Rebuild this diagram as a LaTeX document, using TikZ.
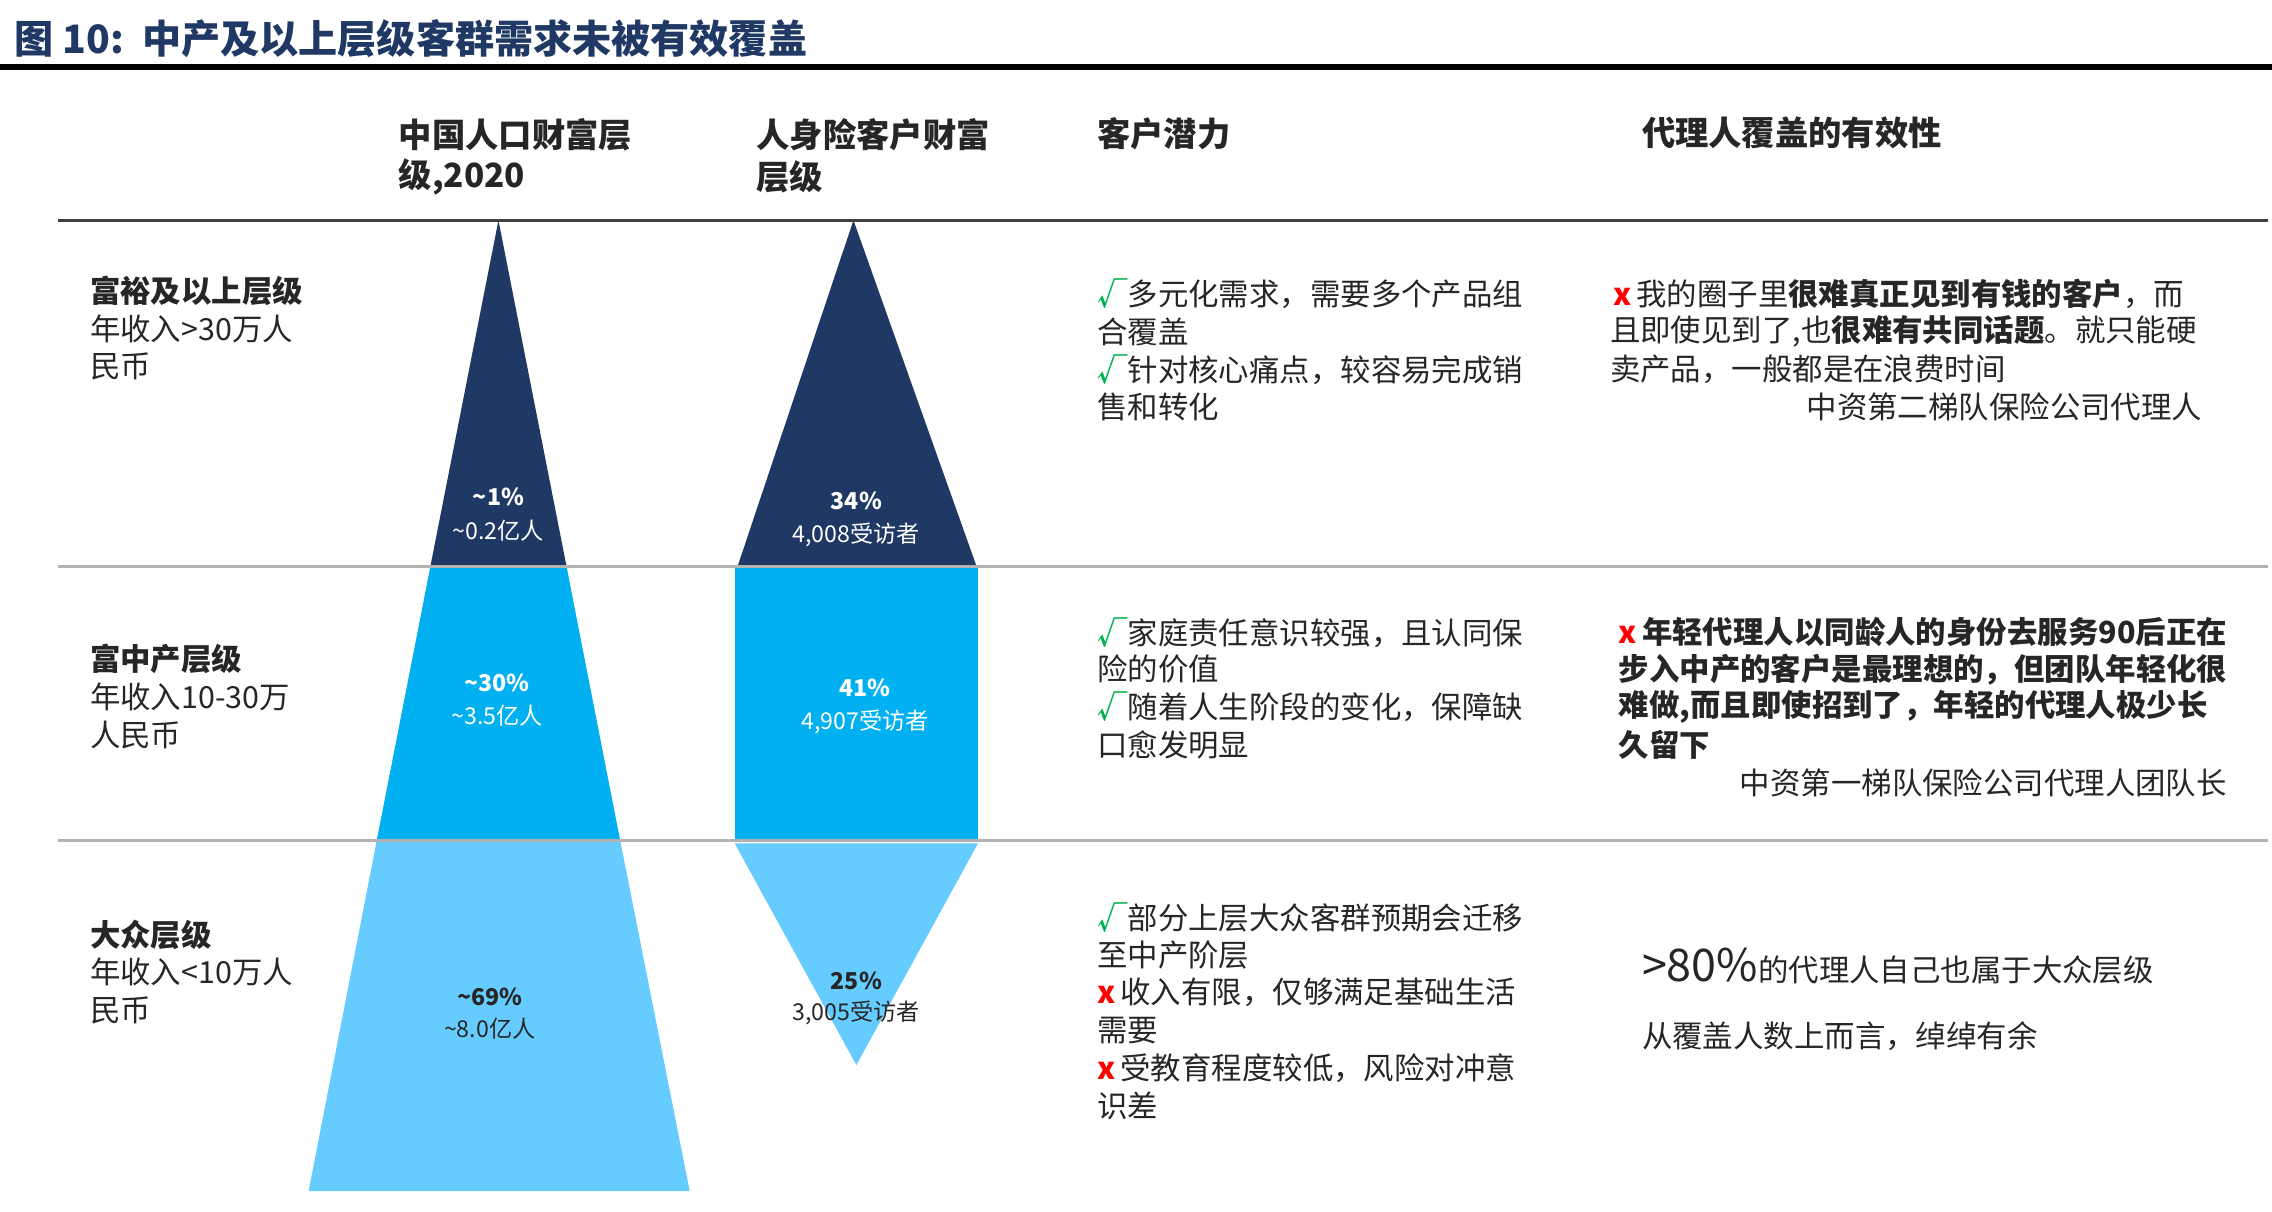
\documentclass[tikz,border=0pt]{standalone}
\usepackage{fontspec}
\setmainfont{Noto Sans CJK SC}
\definecolor{navy}{HTML}{1F3864}
\definecolor{midb}{HTML}{00B0F0}
\definecolor{lightb}{HTML}{66CCFF}
\definecolor{txt}{HTML}{262626}
\definecolor{ck}{HTML}{00B050}
\definecolor{xr}{HTML}{FF0000}
\begin{document}
\begin{tikzpicture}[x=1pt,y=-1pt,
  t/.style={anchor=west,inner sep=0pt,text=txt,font=\fontsize{21}{24}\selectfont},
  hd/.style={anchor=west,inner sep=0pt,text=txt,font=\fontsize{23}{26}\selectfont\bfseries},
  lab/.style={inner sep=0pt,font=\fontsize{16}{18}\selectfont},
  labb/.style={inner sep=0pt,font=\fontsize{16}{18}\selectfont\bfseries},
  rl/.style={draw=gray!60,line width=2pt}]
\useasboundingbox (0,0) rectangle (1568,836);
% title
\node[anchor=west,inner sep=0pt,text=navy,font=\fontsize{27}{30}\selectfont\bfseries] (title) at (10,27) {图 10:\ \ 中产及以上层级客群需求未被有效覆盖};
\coordinate (tl0) at (0,46); \coordinate (tl1) at (1568,46);
\draw[line width=4pt,black] (tl0) -- (tl1);
% headers
\node[hd] (h1a) at (275,93) {中国人口财富层};
\node[hd] (h1b) at (275,122) {级,2020};
\node[hd] (h2a) at (522,93) {人身险客户财富};
\node[hd] (h2b) at (522,122) {层级};
\node[hd] (h3) at (757,92) {客户潜力};
\node[hd] (h4) at (1133,92) {代理人覆盖的有效性};
% shapes
\fill[navy] (344,152) -- (391,391) -- (297,391) -- cycle;
\fill[midb] (297,391) -- (391,391) -- (428,580) -- (260,580) -- cycle;
\fill[lightb] (260,580) -- (428,580) -- (476,822) -- (213,822) -- cycle;
\fill[navy] (589,152) -- (674,391) -- (509,391) -- cycle;
\fill[midb] (507,391) rectangle (675,580);
\fill[lightb] (507,582) -- (675,582) -- (591,735) -- cycle;
% rules
\coordinate (r0a) at (40,152); \coordinate (r0b) at (1565,152);
\coordinate (r1a) at (40,391); \coordinate (r1b) at (1565,391);
\coordinate (r2a) at (40,580); \coordinate (r2b) at (1565,580);
\draw[line width=2pt,black!75] (r0a) -- (r0b);
\draw[rl] (r1a) -- (r1b);
\draw[rl] (r2a) -- (r2b);
% inner labels
\node[labb,white] (p1) at (344,343) {\textasciitilde 1\%};
\node[lab,white] (q1) at (344,366) {\textasciitilde 0.2亿人};
\node[labb,white] (p2) at (591,346) {34\%};
\node[lab,white] (q2) at (591,369) {4,008受访者};
\node[labb,white] (p3) at (343,471) {\textasciitilde 30\%};
\node[lab,white] (q3) at (343,494) {\textasciitilde 3.5亿人};
\node[labb,white] (p4) at (597,475) {41\%};
\node[lab,white] (q4) at (597,498) {4,907受访者};
\node[labb,txt] (p5) at (338,688) {\textasciitilde 69\%};
\node[lab,txt] (q5) at (338,710) {\textasciitilde 8.0亿人};
\node[labb,txt] (p6) at (591,677) {25\%};
\node[lab,txt] (q6) at (591,699) {3,005受访者};
% left labels
\node[t,font=\fontsize{21}{24}\selectfont\bfseries] (l1a) at (62,201) {富裕及以上层级};
\node[t] (l1b) at (62,227) {年收入>30万人};
\node[t] (l1c) at (62,253) {民币};
\node[t,font=\fontsize{21}{24}\selectfont\bfseries] (l2a) at (62,455) {富中产层级};
\node[t] (l2b) at (62,481) {年收入10-30万};
\node[t] (l2c) at (62,507) {人民币};
\node[t,font=\fontsize{21}{24}\selectfont\bfseries] (l3a) at (62,645) {大众层级};
\node[t] (l3b) at (62,671) {年收入<10万人};
\node[t] (l3c) at (62,697) {民币};
% column 3
\newcommand{\ckm}{\textcolor{ck}{\bfseries √}}
\newcommand{\xm}{\textcolor{xr}{\bfseries x}\,}
\node[t] (c1) at (757,203) {\ckm 多元化需求，需要多个产品组};
\node[t] (c2) at (757,229) {合覆盖};
\node[t] (c3) at (757,255) {\ckm 针对核心痛点，较容易完成销};
\node[t] (c4) at (757,281) {售和转化};
\node[t] (c5) at (757,437) {\ckm 家庭责任意识较强，且认同保};
\node[t] (c6) at (757,462) {险的价值};
\node[t] (c7) at (757,488) {\ckm 随着人生阶段的变化，保障缺};
\node[t] (c8) at (757,514) {口愈发明显};
\node[t] (c9) at (757,633) {\ckm 部分上层大众客群预期会迁移};
\node[t] (c10) at (757,659) {至中产阶层};
\node[t] (c11) at (757,685) {\xm 收入有限，仅够满足基础生活};
\node[t] (c12) at (757,711) {需要};
\node[t] (c13) at (757,737) {\xm 受教育程度较低，风险对冲意};
\node[t] (c14) at (757,763) {识差};
% column 4
\node[t] (d1) at (1113,203) {\xm 我的圈子里\textbf{很难真正见到有钱的客户}，而};
\node[t] (d2) at (1111,229) {且即使见到了,也\textbf{很难有共同话题}。就只能硬};
\node[t] (d3) at (1111,255) {卖产品，一般都是在浪费时间};
\node[t,anchor=east] (d4) at (1520,281) {中资第二梯队保险公司代理人};
\node[t,font=\fontsize{21}{24}\selectfont\bfseries] (e1) at (1117,436) {\xm 年轻代理人以同龄人的身份去服务90后正在};
\node[t,font=\fontsize{21}{24}\selectfont\bfseries] (e2) at (1117,462) {步入中产的客户是最理想的，但团队年轻化很};
\node[t,font=\fontsize{21}{24}\selectfont\bfseries] (e3) at (1117,488) {难做,而且即使招到了，年轻的代理人极少长};
\node[t,font=\fontsize{21}{24}\selectfont\bfseries] (e4) at (1117,514) {久留下};
\node[t,anchor=east] (e5) at (1537,540) {中资第一梯队保险公司代理人团队长};
\node[t] (f1) at (1133,667) {{\fontsize{31}{34}\selectfont >80\%}的代理人自己也属于大众层级};
\node[t] (f2) at (1133,715) {从覆盖人数上而言，绰绰有余};
\end{tikzpicture}
\end{document}
